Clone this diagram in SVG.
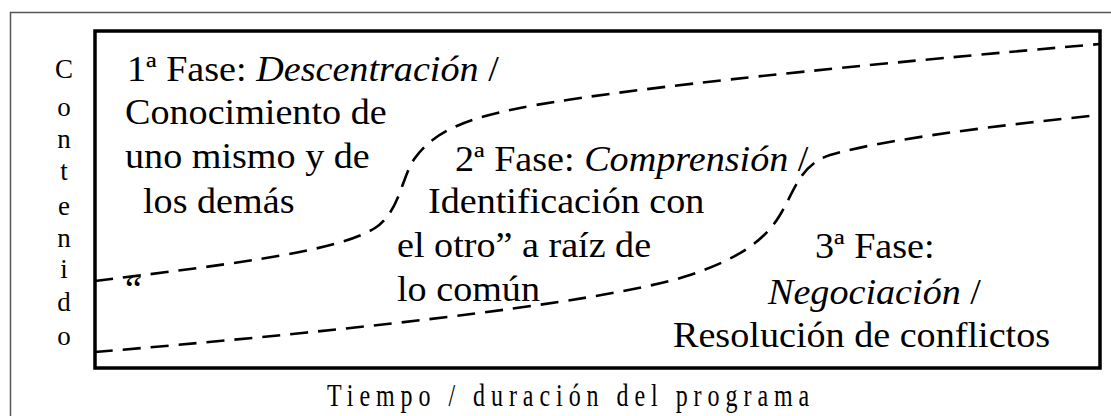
<svg xmlns="http://www.w3.org/2000/svg" width="1111" height="416" viewBox="0 0 1111 416">
<style>
.t{font-family:"Liberation Serif","Times New Roman",serif;font-size:36px;fill:#000}
.i{font-style:italic}
.v{font-family:"Liberation Serif","Times New Roman",serif;font-size:27px;fill:#000;text-anchor:middle}
.ax{font-family:"Liberation Serif","Times New Roman",serif;font-size:32px;fill:#000}
.dash{fill:none;stroke:#000;stroke-width:2.6;stroke-dasharray:18 10}
</style>
<rect width="1111" height="416" fill="#fff"/>
<g id="frame">
<rect x="10.5" y="12.5" width="1110" height="420" fill="none" stroke="#555" stroke-width="1.5"/>
<rect x="95" y="31" width="1005" height="337" fill="none" stroke="#000" stroke-width="3.5"/>
</g>
<g id="connectors">
<path class="dash" d="M95,281 C250,262 340,250 375,228 C400,212 402,175 415,158 C435,130 470,118 520,108 C600,92 800,70 1100,44"/>
<path class="dash" d="M95,352 C300,335 600,305 690,275 C740,258 765,240 780,215 C795,190 800,165 830,155 C880,140 1000,125 1100,115"/>
</g>
<g id="y-axis-label">
<text class="v" x="64" y="78">C</text>
<text class="v" x="64" y="116">o</text>
<text class="v" x="64" y="148">n</text>
<text class="v" x="64" y="180">t</text>
<text class="v" x="64" y="215">e</text>
<text class="v" x="64" y="247">n</text>
<text class="v" x="64" y="278">i</text>
<text class="v" x="64" y="311">d</text>
<text class="v" x="64" y="345">o</text>
</g>
<g id="phase1">
<text class="t" transform="translate(127,80.5) scale(1.06,1)">1ª Fase: <tspan class="i">Descentración</tspan> /</text>
<text class="t" transform="translate(125,124) scale(1.06,1)">Conocimiento de</text>
<text class="t" transform="translate(125,168) scale(1.06,1)">uno mismo y de</text>
<text class="t" transform="translate(143,212.5) scale(1.06,1)">los demás</text>
<text class="t" transform="translate(125,301) scale(1.06,1)">“</text>
</g>
<g id="phase2">
<text class="t" transform="translate(455,171) scale(1.06,1)">2ª Fase: <tspan class="i">Comprensión</tspan> /</text>
<text class="t" transform="translate(428,213) scale(1.06,1)">Identificación con</text>
<text class="t" transform="translate(397,257) scale(1.06,1)">el otro” a raíz de</text>
<text class="t" transform="translate(397,301) scale(1.06,1)">lo común</text>
</g>
<g id="phase3">
<text class="t" transform="translate(815,258) scale(1.06,1)">3ª Fase:</text>
<text class="t" transform="translate(768,304) scale(1.06,1)"><tspan class="i">Negociación</tspan> /</text>
<text class="t" transform="translate(673,347) scale(1.06,1)">Resolución de conflictos</text>
</g>
<g id="x-axis-label">
<text class="ax" transform="translate(327,406) scale(0.75,1)" textLength="643" lengthAdjust="spacing">Tiempo / duración del programa</text>
</g>
</svg>
